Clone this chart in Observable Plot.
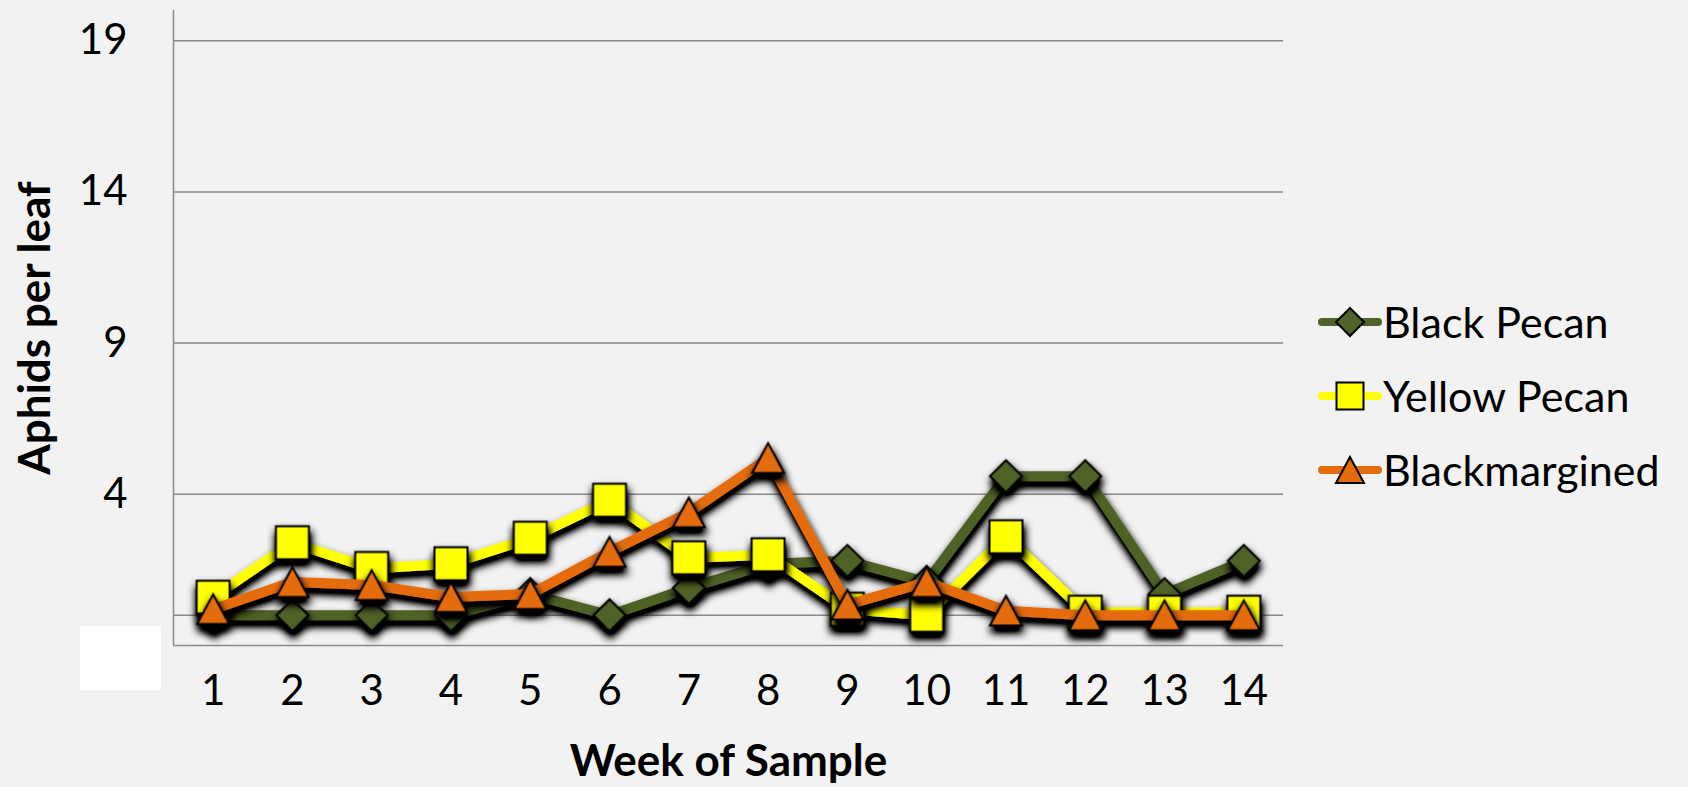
<!DOCTYPE html>
<html><head><meta charset="utf-8">
<script src="https://cdn.jsdelivr.net/npm/d3@7"></script>
<script src="https://cdn.jsdelivr.net/npm/@observablehq/plot@0.6"></script>
<style>
html,body{margin:0;padding:0;background:#f2f2f2;}
#chart{position:relative;width:1688px;height:787px;overflow:hidden;}
#mask{position:absolute;left:80px;top:626px;width:81px;height:64px;background:#fff;}
.item{position:absolute;left:1318px;height:60px;display:flex;align-items:center;white-space:nowrap;font-family:Lato,sans-serif;font-size:43px;color:#000;}
.item svg{display:block;margin-right:1px;}
</style></head><body>
<div id="chart"></div>
<script>
// ---- data ----
const weeks = [1,2,3,4,5,6,7,8,9,10,11,12,13,14];
const seriesNames = ["Black Pecan","Yellow Pecan","Blackmargined"];
const blackPecan    = [0, 0, 0, 0, 0.7, 0, 0.9, 1.7, 1.8, 1.1, 4.6, 4.6, 0.7, 1.8];
const yellowPecan   = [0.6, 2.4, 1.55, 1.7, 2.55, 3.8, 1.9, 2.0, 0.2, 0, 2.6, 0.1, 0.1, 0.1];
const blackmargined = [0.2, 1.1, 1.0, 0.6, 0.7, 2.1, 3.4, 5.2, 0.35, 1.1, 0.15, 0, 0, 0];
const yTickLabels = [4, 9, 14, 19];
const gridValues = [0, 4, 9, 14, 19];
const colors = ["#4F6228", "#FFFF00", "#E46C0A"];
const xTitle = "Week of Sample";
const yTitle = "Aphids per leaf";

// triangle symbol centred on its bounding box
const triangleBox = {
  draw(ctx, size) {
    const s = Math.sqrt(size);
    ctx.moveTo(0, -0.7 * s);
    ctx.lineTo(0.75 * s, 0.7 * s);
    ctx.lineTo(-0.75 * s, 0.7 * s);
    ctx.closePath();
  }
};
const symbols = ["diamond2", "square", triangleBox];
const legendSymbols = [d3.symbolDiamond2, d3.symbolSquare, triangleBox];
const dotR = [14.4, 18.6, 12];
const legendSizes = [500, 729, 348];

const values = [blackPecan, yellowPecan, blackmargined];
const table = values.map((vals, k) => weeks.map((w, i) => ({week: w, value: vals[i], series: seriesNames[k]})));

const grey = "#8a8a8a";
const marks = [
  Plot.ruleY(gridValues, {stroke: grey, strokeWidth: 1.5}),
  Plot.ruleY([-1], {stroke: grey, strokeWidth: 1.5}),
  Plot.ruleX([0.5], {y1: -1, y2: 20, stroke: grey, strokeWidth: 1.5}),
  Plot.axisY({ticks: yTickLabels, tickSize: 0, tickPadding: 46, fontSize: 42, label: null, fill: "#000"}),
  Plot.axisX({ticks: weeks, tickSize: 0, tickPadding: 30, fontSize: 42, label: null, fill: "#000", tickFormat: d => String(d)}),
  Plot.text([yTitle], {text: d => d, frameAnchor: "left", dx: -138, rotate: -90, textAnchor: "middle", lineAnchor: "middle", fontSize: 44, fontWeight: "bold", fill: "#000"}),
  Plot.text([xTitle], {text: d => d, frameAnchor: "bottom", dy: 116, textAnchor: "middle", lineAnchor: "middle", fontSize: 44, fontWeight: "bold", fill: "#000"})
];
table.forEach((rows, k) => {
  marks.push(Plot.line(rows, {x: "week", y: "value", stroke: colors[k], strokeWidth: 10, strokeLinejoin: "round", strokeLinecap: "round"}));
  marks.push(Plot.dot(rows, {x: "week", y: "value", symbol: symbols[k], r: dotR[k], fill: colors[k], stroke: "#000", strokeWidth: 2}));
});

const svg = Plot.plot({
  width: 1688,
  height: 787,
  marginLeft: 173,
  marginRight: 405,
  marginTop: 10,
  marginBottom: 142,
  x: {type: "linear", domain: [0.5, 14.5]},
  y: {type: "linear", domain: [-1, 20]},
  style: {fontFamily: "Lato, sans-serif", background: "#f2f2f2", color: "#000", overflow: "visible"},
  marks
});

// drop shadow like the original chart
const defs = d3.select(svg).insert("defs", ":first-child");
const f = defs.append("filter").attr("id", "shadow").attr("filterUnits", "userSpaceOnUse")
  .attr("x", 0).attr("y", 0).attr("width", 1688).attr("height", 787);
f.append("feGaussianBlur").attr("in", "SourceAlpha").attr("stdDeviation", 4).attr("result", "blur");
f.append("feOffset").attr("in", "blur").attr("dx", 1).attr("dy", 6).attr("result", "off");
f.append("feComponentTransfer").attr("in", "off").attr("result", "shadow")
  .append("feFuncA").attr("type", "linear").attr("slope", 1.6);
const merge = f.append("feMerge");
merge.append("feMergeNode").attr("in", "shadow");
merge.append("feMergeNode").attr("in", "SourceGraphic");
d3.select(svg).selectAll('g[aria-label="line"], g[aria-label="dot"]').attr("filter", "url(#shadow)");

const chart = document.getElementById("chart");
chart.appendChild(svg);
const mask = document.createElement("div");
mask.id = "mask";
chart.appendChild(mask);

// legend
const legendCenters = [321, 395, 469];
seriesNames.forEach((name, k) => {
  const item = document.createElement("div");
  item.className = "item";
  item.style.top = (legendCenters[k] - 30) + "px";
  const sw = d3.create("svg").attr("width", 64).attr("height", 60);
  sw.append("line").attr("x1", 4).attr("x2", 60).attr("y1", 31).attr("y2", 31)
    .attr("stroke", colors[k]).attr("stroke-width", 8).attr("stroke-linecap", "round");
  sw.append("path").attr("transform", "translate(32,31)")
    .attr("d", d3.symbol(legendSymbols[k], legendSizes[k])())
    .attr("fill", colors[k]).attr("stroke", "#000").attr("stroke-width", 2);
  item.appendChild(sw.node());
  const span = document.createElement("span");
  span.textContent = name;
  item.appendChild(span);
  chart.appendChild(item);
});
</script>
</body></html>
